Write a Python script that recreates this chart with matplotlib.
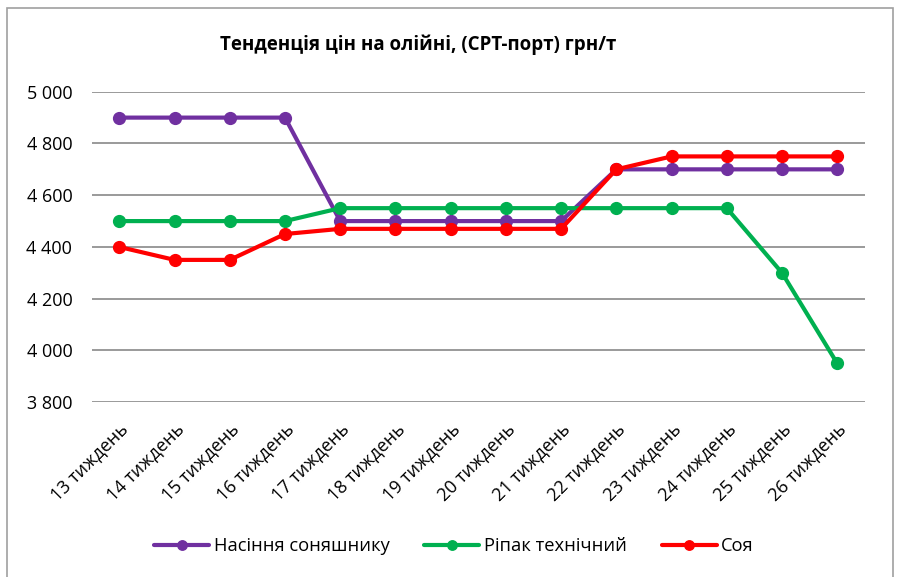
import matplotlib.pyplot as plt
from matplotlib.patches import Rectangle

plt.rcParams['font.family'] = ['Open Sans', 'DejaVu Sans']

# Дані
weeks = ["13 тиждень", "14 тиждень", "15 тиждень", "16 тиждень", "17 тиждень",
         "18 тиждень", "19 тиждень", "20 тиждень", "21 тиждень", "22 тиждень",
         "23 тиждень", "24 тиждень", "25 тиждень", "26 тиждень"]
sunflower = [4900, 4900, 4900, 4900, 4500, 4500, 4500, 4500, 4500, 4700, 4700, 4700, 4700, 4700]
rapeseed = [4500, 4500, 4500, 4500, 4550, 4550, 4550, 4550, 4550, 4550, 4550, 4550, 4300, 3950]
soy = [4400, 4350, 4350, 4450, 4470, 4470, 4470, 4470, 4470, 4700, 4750, 4750, 4750, 4750]
yticks = [3800, 4000, 4200, 4400, 4600, 4800, 5000]

fig = plt.figure(figsize=(8.99, 5.77), dpi=100)
ax = fig.add_axes([0.102, 0.303, 0.860, 0.538])

x = range(len(weeks))
kw = dict(lw=3, marker="o", ms=8.5, solid_capstyle="round")
ax.plot(x, sunflower, color="#7030A0", label="Насіння соняшнику", **kw)
ax.plot(x, rapeseed, color="#00B050", label="Ріпак технічний", **kw)
ax.plot(x, soy, color="#FF0000", label="Соя", **kw)

ax.set_xlim(-0.5, len(weeks) - 0.5)
ax.set_ylim(3800, 5000)
ax.set_yticks(yticks)
ax.set_yticklabels([f"{v:,}".replace(",", " ") for v in yticks])
ax.set_xticks(list(x))
ax.set_xticklabels(weeks, rotation=45, ha="right", rotation_mode="anchor")
ax.tick_params(length=0, labelsize=13)
ax.tick_params(axis="y", pad=14)
ax.tick_params(axis="x", pad=13)
ax.grid(axis="y", color="#898989", lw=1.2)
ax.set_axisbelow(True)
for s in ax.spines.values():
    s.set_visible(False)

fig.text(418 / 899, 1 - 45 / 577, "Тенденція цін на олійні, (CPT-порт) грн/т",
         ha="center", va="center", fontsize=13.5, fontweight="bold")

fig.legend(loc="center", bbox_to_anchor=(454 / 899, 1 - 546 / 577), ncol=3, frameon=False,
           fontsize=13.2, handlelength=3.0, columnspacing=1.9, handletextpad=0.25,
           markerscale=0.8)

# рамка діаграми
fig.patches.append(Rectangle((7 / 899, -0.05), 886 / 899, 1.05 - 8 / 577,
                             transform=fig.transFigure, fill=False,
                             edgecolor="#A0A0A0", lw=1.2))

plt.savefig("out.png", dpi=100)
